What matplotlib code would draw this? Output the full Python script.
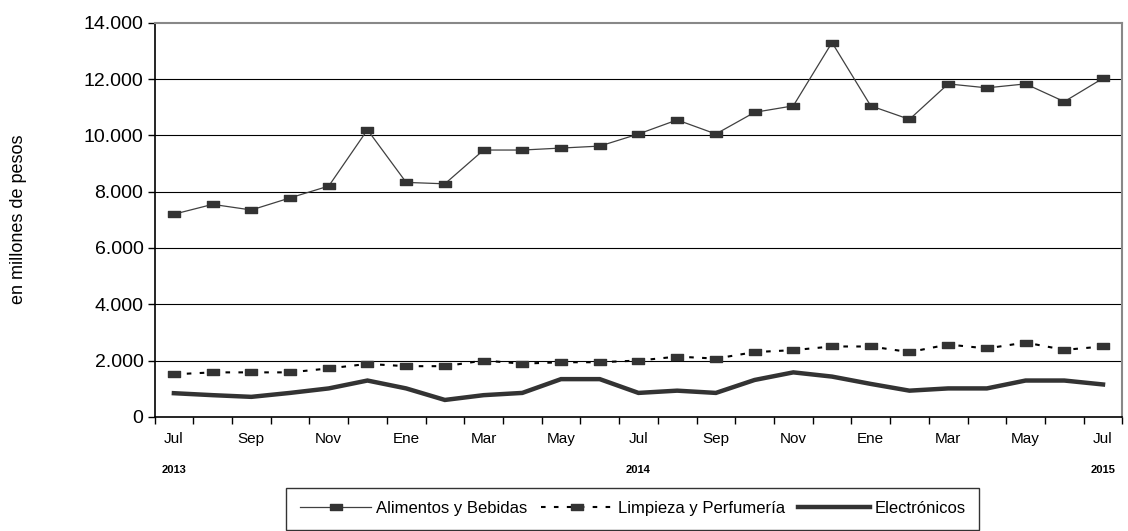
import matplotlib
matplotlib.use("Agg")
import matplotlib.pyplot as plt
import numpy as np
from matplotlib.path import Path
from matplotlib.transforms import blended_transform_factory

plt.rcParams['font.family'] = ['Liberation Sans', 'DejaVu Sans']

# Monthly data, Jul 2013 .. Jul 2015 (en millones de pesos)
meses = ["Jul", "Ago", "Sep", "Oct", "Nov", "Dic", "Ene", "Feb", "Mar", "Abr", "May", "Jun",
         "Jul", "Ago", "Sep", "Oct", "Nov", "Dic", "Ene", "Feb", "Mar", "Abr", "May", "Jun", "Jul"]
alimentos = [7200, 7550, 7350, 7780, 8200, 10200, 8330, 8280, 9480, 9480, 9550, 9620,
             10050, 10550, 10050, 10820, 11050, 13300, 11050, 10570, 11830, 11690, 11830, 11200, 12030]
limpieza = [1510, 1580, 1580, 1580, 1720, 1880, 1800, 1800, 2000, 1890, 1940, 1940,
            2000, 2140, 2070, 2300, 2370, 2500, 2500, 2300, 2570, 2430, 2640, 2380, 2500]
electronicos = [840, 770, 710, 850, 1010, 1290, 1010, 600, 770, 850, 1340, 1340,
                850, 930, 850, 1310, 1580, 1430, 1170, 930, 1010, 1010, 1290, 1290, 1150]
anios = {0: "2013", 12: "2014", 24: "2015"}
yticks = [0, 2000, 4000, 6000, 8000, 10000, 12000, 14000]

x = np.arange(len(meses))

# wide flat rectangle marker
rect = Path([(-1, -0.42), (1, -0.42), (1, 0.42), (-1, 0.42), (-1, -0.42)],
            [Path.MOVETO, Path.LINETO, Path.LINETO, Path.LINETO, Path.CLOSEPOLY])

fig = plt.figure(figsize=(11.28, 5.31), dpi=100)
ax = fig.add_axes([0.137, 0.215, 0.858, 0.742])

for y in yticks[1:-1]:
    ax.axhline(y, color="black", lw=0.8, zorder=1)

ax.plot(x, alimentos, color="#404040", lw=0.9, marker=rect, ms=9,
        mfc="#333333", mec="#333333", label="Alimentos y Bebidas", zorder=3)
ax.plot(x, limpieza, color="black", lw=1.5, ls=(0, (2.2, 4)), marker=rect, ms=9,
        mfc="#333333", mec="#333333", label="Limpieza y Perfumería", zorder=3)
ax.plot(x, electronicos, color="#333333", lw=3.2, solid_joinstyle="miter",
        label="Electrónicos", zorder=3)

ax.set_xlim(-0.5, len(meses) - 0.5)
ax.set_ylim(0, 14000)
ax.set_yticks(yticks)
ax.set_yticklabels([f"{v:,}".replace(",", ".") for v in yticks], fontsize=14)
ax.tick_params(axis="y", direction="out", length=5, width=1, pad=3)

ax.set_xticks(x[::2])
ax.set_xticklabels(meses[::2], fontsize=11)
ax.set_xticks(np.arange(-0.5, len(meses), 1), minor=True)
ax.tick_params(axis="x", which="major", length=0, pad=11)
ax.tick_params(axis="x", which="minor", direction="out", length=5, width=1)

for s in ["top", "right"]:
    ax.spines[s].set_color("#888888")
    ax.spines[s].set_linewidth(1.5)
for s in ["left", "bottom"]:
    ax.spines[s].set_color("black")
    ax.spines[s].set_linewidth(1.2)

tr = blended_transform_factory(ax.transData, ax.transAxes)
for i, a in anios.items():
    ax.text(i, -0.135, a, transform=tr, ha="center", va="center",
            fontsize=8, fontweight="bold")

fig.text(0.016, 0.588, "en millones de pesos", rotation=90, ha="center", va="center",
         fontsize=13)

leg = fig.legend(loc="upper center", bbox_to_anchor=(0.561, 0.081), ncol=3,
                 fontsize=12, frameon=True, fancybox=False,
                 edgecolor="black", handlelength=4.3, columnspacing=0.8,
                 handletextpad=0.3, borderpad=0.8, borderaxespad=0)
leg.get_frame().set_linewidth(1.0)

fig.savefig("out.png", dpi=100)
